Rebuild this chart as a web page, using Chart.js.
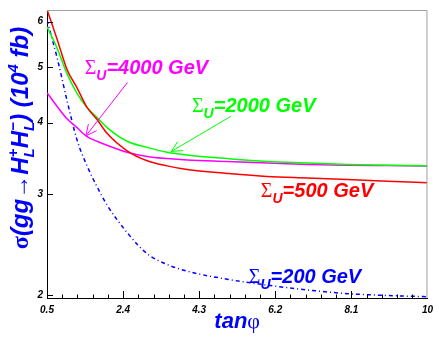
<!DOCTYPE html>
<html>
<head>
<meta charset="utf-8">
<script src="https://cdn.jsdelivr.net/npm/chart.js@4"></script>
<style>
  body { margin: 0; background: #fff; }
  #wrap { width: 439px; height: 338px; }
</style>
</head>
<body>
<div id="wrap"><canvas id="c"></canvas></div>
<script>
// tan(phi) sample points and cross sections (10^4 fb)
const tanPhi = [0.5, 0.75, 1, 1.25, 1.5, 1.75, 2, 2.5, 3, 3.5, 4, 5, 6, 7, 8, 9, 10];
const sigma500 = [6.3, 5.6, 4.95, 4.6, 4.25, 4.05, 3.83, 3.57, 3.43, 3.36, 3.31, 3.26, 3.22, 3.2, 3.18, 3.16, 3.14];
const sigma2000 = [5.88, 5.4, 4.87, 4.5, 4.25, 4.08, 3.92, 3.71, 3.62, 3.55, 3.51, 3.46, 3.42, 3.4, 3.38, 3.37, 3.36];
const sigma4000 = [4.51, 4.27, 4.06, 3.92, 3.78, 3.71, 3.65, 3.55, 3.49, 3.46, 3.44, 3.42, 3.4, 3.38, 3.37, 3.365, 3.36];
const sigma200 = [6.04, 5.2, 4.37, 3.73, 3.36, 3.09, 2.87, 2.57, 2.36, 2.26, 2.2, 2.13, 2.08, 2.04, 2.01, 1.995, 1.985];

const xTicks = [0.5, 2.4, 4.3, 6.2, 8.1, 10];
const xTickLabels = ["0.5", "2.4", "4.3", "6.2", "8.1", "10"];
const yTicks = [2, 3, 4, 5, 6];

// curve labels: text value, anchor in data units, colour
const labelMasses = ["4000", "2000", "500", "200"];
const labelX = [1.44, 4.12, 5.84, 5.54];
const labelY = [4.87, 4.18, 2.96, 2.1];
const labelColors = ["#ff00ff", "#00ff00", "#ff0000", "#0000ff"];

// arrows (data units): from -> to
const arrowFrom = [[2.51, 4.7], [5.09, 4.1]];
const arrowTo = [[1.47, 3.79], [3.6, 3.56]];
const arrowColors = ["#ff00ff", "#00ff00"];

const SANS = '"Liberation Sans", Arial, sans-serif';
const SERIF = '"Liberation Serif", "Times New Roman", serif';

function pairs(ys) {
  return tanPhi.map((x, i) => ({ x: x, y: ys[i] }));
}

// draws a run of text pieces; piece = {t, f, dy} or {sup, sub, f}
function richWidth(ctx, segs) {
  let w = 0;
  segs.forEach(s => {
    ctx.font = s.f;
    if (s.t !== undefined) w += ctx.measureText(s.t).width;
    else w += Math.max(ctx.measureText(s.sup || "").width, ctx.measureText(s.sub || "").width);
  });
  return w;
}
function drawRich(ctx, segs, x, y) {
  segs.forEach(s => {
    ctx.font = s.f;
    if (s.t !== undefined) {
      ctx.fillText(s.t, x, y + (s.dy || 0));
      x += ctx.measureText(s.t).width;
    } else {
      if (s.sup) ctx.fillText(s.sup, x, y - 10);
      if (s.sub) ctx.fillText(s.sub, x, y + 6);
      x += Math.max(ctx.measureText(s.sup || "").width, ctx.measureText(s.sub || "").width);
    }
  });
}

const decorPlugin = {
  id: "decor",
  afterDraw(chart) {
    const ctx = chart.ctx;
    const xs = chart.scales.x, ys = chart.scales.y;
    const a = chart.chartArea;
    ctx.save();

    // grey frame top/right
    ctx.strokeStyle = "#a0a0a0";
    ctx.lineWidth = 1;
    ctx.beginPath();
    ctx.moveTo(a.left, a.top + 0.5);
    ctx.lineTo(a.right - 0.5, a.top + 0.5);
    ctx.lineTo(a.right - 0.5, a.bottom);
    ctx.stroke();

    // inward ticks
    ctx.strokeStyle = "#000";
    ctx.beginPath();
    for (let i = 0; i < xTicks.length - 1; i++) {
      const step = (xTicks[i + 1] - xTicks[i]) / 5;
      for (let k = 0; k < 5; k++) {
        const px = Math.round(xs.getPixelForValue(xTicks[i] + k * step)) + 0.5;
        const len = k === 0 ? 7 : 3.5;
        ctx.moveTo(px, a.bottom);
        ctx.lineTo(px, a.bottom - len);
      }
    }
    yTicks.forEach(v => {
      const py = Math.round(ys.getPixelForValue(v)) + 0.5;
      ctx.moveTo(a.left, py);
      ctx.lineTo(a.left + 6, py);
    });
    ctx.stroke();

    // curve labels
    ctx.textBaseline = "alphabetic";
    labelMasses.forEach((m, i) => {
      ctx.fillStyle = labelColors[i];
      drawRich(ctx, [
        { t: "\u03A3", f: "20px " + SERIF },
        { t: "U", f: "italic bold 14px " + SANS, dy: 6 },
        { t: "=" + m + " GeV", f: "italic bold 20px " + SANS }
      ], xs.getPixelForValue(labelX[i]), ys.getPixelForValue(labelY[i]));
    });

    // arrows with open heads
    arrowFrom.forEach((f, i) => {
      const x0 = xs.getPixelForValue(f[0]), y0 = ys.getPixelForValue(f[1]);
      const x1 = xs.getPixelForValue(arrowTo[i][0]), y1 = ys.getPixelForValue(arrowTo[i][1]);
      const ang = Math.atan2(y1 - y0, x1 - x0);
      ctx.strokeStyle = arrowColors[i];
      ctx.lineWidth = 1;
      ctx.beginPath();
      ctx.moveTo(x0, y0);
      ctx.lineTo(x1, y1);
      [-0.45, 0.45].forEach(d => {
        ctx.moveTo(x1, y1);
        ctx.lineTo(x1 - 12 * Math.cos(ang + d), y1 - 12 * Math.sin(ang + d));
      });
      ctx.stroke();
    });

    // axis titles
    ctx.fillStyle = "#0000ff";
    const xt = [
      { t: "tan", f: "italic bold 22px " + SANS },
      { t: "\u03C6", f: "22px " + SERIF }
    ];
    const cx = (a.left + a.right) / 2;
    drawRich(ctx, xt, cx - richWidth(ctx, xt) / 2, 328);

    const B = "italic bold 24px " + SANS, S = "italic bold 15px " + SANS;
    const yt = [
      { t: "\u03C3", f: "bold 24px " + SERIF },
      { t: "(gg", f: B },
      { t: "\u2192", f: "24px " + SERIF },
      { t: "H", f: B },
      { sup: "+", sub: "L", f: S },
      { t: "H", f: B },
      { sup: "\u2212", sub: "L", f: S },
      { t: ") (10", f: B },
      { sup: "4", f: S },
      { t: " fb)", f: B }
    ];
    ctx.translate(28, 138);
    ctx.rotate(-Math.PI / 2);
    drawRich(ctx, yt, -richWidth(ctx, yt) / 2, 0);
    ctx.restore();
  }
};

const tickFont = { family: SANS, size: 10, style: "italic", weight: "bold" };

new Chart(document.getElementById("c"), {
  type: "line",
  data: {
    datasets: [
      { label: "500", data: pairs(sigma500), borderColor: "#ff0000", borderWidth: 1.5 },
      { label: "2000", data: pairs(sigma2000), borderColor: "#00ff00", borderWidth: 1.5 },
      { label: "4000", data: pairs(sigma4000), borderColor: "#ff00ff", borderWidth: 1.5 },
      { label: "200", data: pairs(sigma200), borderColor: "#0000ff", borderWidth: 1.5, borderDash: [4, 3, 1, 3] }
    ]
  },
  options: {
    responsive: true,
    maintainAspectRatio: false,
    animation: false,
    layout: { padding: { top: 3, right: 10, left: 0, bottom: 0 } },
    elements: {
      point: { radius: 0 },
      line: { cubicInterpolationMode: "monotone", fill: false }
    },
    plugins: { legend: { display: false }, tooltip: { enabled: false } },
    scales: {
      x: {
        type: "linear",
        min: 0.5,
        max: 10,
        afterFit: s => { s.height = 40; },
        afterBuildTicks: s => { s.ticks = xTicks.map(v => ({ value: v })); },
        grid: { display: false, drawTicks: false },
        border: { display: true, color: "#000", width: 1 },
        ticks: {
          color: "#000",
          font: tickFont,
          padding: 6,
          maxRotation: 0,
          autoSkip: false,
          callback: v => xTickLabels[xTicks.indexOf(v)] || ""
        }
      },
      y: {
        type: "logarithmic",
        min: 1.975,
        max: 6.29,
        afterFit: s => { s.width = 47; },
        afterBuildTicks: s => { s.ticks = yTicks.map(v => ({ value: v })); },
        grid: { display: false, drawTicks: false },
        border: { display: true, color: "#000", width: 1 },
        ticks: {
          color: "#000",
          font: tickFont,
          padding: 4,
          autoSkip: false,
          callback: v => String(v)
        }
      }
    }
  },
  plugins: [decorPlugin]
});
</script>
</body>
</html>
